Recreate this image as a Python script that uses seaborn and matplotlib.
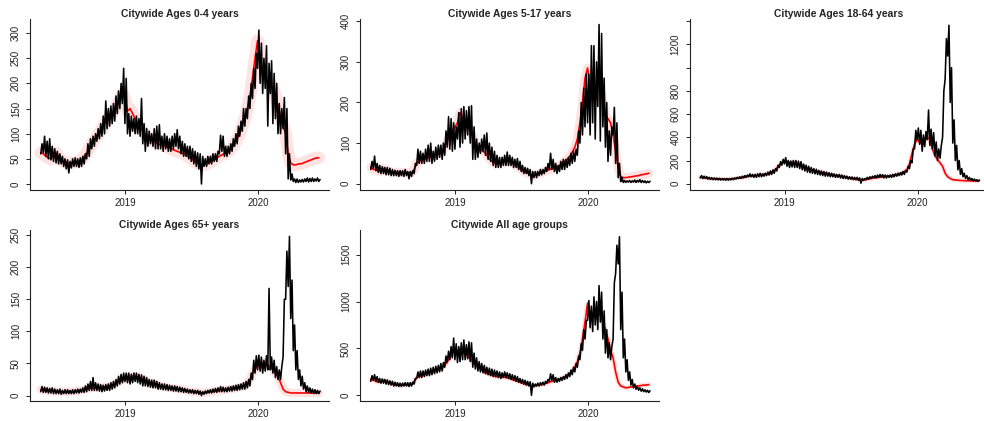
import numpy as np
import pandas as pd
import matplotlib
matplotlib.use("Agg")
import matplotlib.pyplot as plt
import seaborn as sns

# ---------------- data (weekly readings, 2018-05-14 .. 2020-06-15) ----------------
start_date = "2018-05-14"
n_weeks = 110

titles = ["Citywide Ages 0-4 years", "Citywide Ages 5-17 years", "Citywide Ages 18-64 years",
          "Citywide Ages 65+ years", "Citywide All age groups"]

xtick_dates = ["2019-01-01", "2020-01-01"]
xtick_labels = ["2019", "2020"]

# Ages 0-4
obs_lo_04 = [60, 62, 55, 50, 48, 45, 42, 40, 40, 35,
             30, 22, 32, 35, 35, 33, 35, 40, 50, 55,
             70, 75, 85, 90, 95, 100, 110, 115, 120, 125,
             140, 150, 160, 120, 100, 95, 105, 100, 100, 95,
             80, 65, 75, 80, 75, 70, 70, 70, 65, 70,
             65, 65, 70, 75, 70, 60, 55, 55, 50, 45,
             40, 35, 30, 0, 35, 35, 40, 40, 45, 45,
             60, 65, 55, 55, 60, 65, 75, 80, 95, 105,
             115, 130, 150, 170, 190, 230, 200, 180, 190, 115,
             180, 120, 130, 100, 100, 110, 60, 10, 8, 5,
             3, 3, 4, 4, 5, 4, 5, 5, 6, 5]
obs_hi_04 = [80, 95, 85, 90, 75, 70, 65, 60, 55, 50,
             48, 45, 50, 52, 50, 52, 55, 60, 80, 90,
             95, 100, 110, 120, 135, 165, 150, 155, 160, 175,
             185, 200, 230, 210, 140, 135, 130, 135, 130, 170,
             120, 110, 105, 100, 110, 115, 118, 95, 100, 95,
             90, 95, 100, 108, 95, 85, 80, 75, 75, 70,
             65, 62, 60, 55, 50, 55, 55, 60, 60, 65,
             97, 95, 75, 75, 80, 90, 100, 115, 125, 150,
             150, 175, 200, 230, 260, 306, 280, 250, 275, 240,
             245, 220, 200, 160, 150, 172, 150, 60, 20, 10,
             10, 8, 9, 10, 12, 11, 12, 10, 12, 9]
exp_04 = [62, 60, 55, 52, 50, 58, 62, 55, 48, 45,
          43, 42, 42, 43, 44, 45, 48, 55, 62, 70,
          80, 88, 95, 102, 110, 120, 128, 135, 140, 148,
          158, 168, 180, 170, 145, 150, 140, 130, 120, 112,
          105, 98, 92, 88, 85, 83, 80, 78, 76, 75,
          73, 70, 68, 66, 64, 62, 60, 57, 54, 50,
          46, 43, 40, 38, 38, 40, 42, 45, 48, 52,
          55, 58, 60, 63, 67, 73, 80, 90, 100, 115,
          130, 150, 175, 210, 250, 285, 240, 220, 210, 205,
          200, 190, 175, 155, 135, 115, 100, 60, 42, 38,
          38, 40, 40, 42, 44, 46, 48, 50, 52, 52]

# Ages 5-17
obs_lo_517 = [35, 38, 32, 28, 25, 25, 22, 22, 20, 20,
              20, 18, 20, 18, 20, 12, 18, 25, 45, 50,
              50, 50, 55, 55, 50, 55, 60, 65, 60, 70,
              90, 85, 80, 85, 110, 90, 100, 110, 120, 100,
              60, 60, 65, 75, 80, 70, 60, 55, 45, 40,
              40, 40, 45, 45, 45, 45, 40, 40, 35, 30,
              25, 25, 20, 0, 15, 15, 20, 22, 25, 30,
              35, 35, 30, 25, 30, 35, 35, 40, 45, 50,
              55, 70, 100, 120, 140, 150, 120, 150, 110, 190,
              105, 140, 90, 55, 70, 120, 50, 15, 5, 3,
              3, 4, 3, 4, 3, 4, 3, 3, 2, 3]
obs_hi_517 = [55, 68, 50, 45, 42, 40, 40, 38, 35, 33,
              32, 32, 32, 35, 30, 30, 32, 50, 85, 80,
              75, 85, 95, 100, 80, 90, 95, 95, 100, 130,
              165, 160, 150, 140, 175, 185, 190, 180, 190, 192,
              140, 110, 100, 110, 120, 125, 100, 90, 80, 70,
              65, 65, 70, 78, 70, 65, 60, 62, 55, 45,
              40, 38, 35, 30, 30, 30, 35, 35, 40, 50,
              75, 60, 50, 45, 55, 60, 60, 65, 75, 80,
              85, 130, 200, 235, 270, 270, 340, 340, 300, 392,
              370, 260, 200, 130, 140, 188, 150, 50, 15, 8,
              7, 8, 7, 9, 8, 10, 8, 7, 6, 6]
exp_517 = [40, 35, 35, 30, 32, 38, 35, 30, 28, 28,
           28, 28, 28, 27, 27, 27, 27, 35, 50, 55,
           58, 60, 62, 65, 68, 70, 72, 75, 80, 90,
           105, 120, 130, 140, 150, 175, 165, 150, 140, 130,
           115, 100, 90, 85, 80, 75, 65, 58, 52, 50,
           50, 52, 55, 55, 55, 52, 48, 45, 40, 35,
           30, 27, 25, 22, 20, 22, 25, 27, 30, 32,
           35, 37, 40, 42, 45, 50, 55, 60, 68, 78,
           90, 110, 150, 200, 260, 285, 240, 220, 215, 250,
           230, 200, 170, 160, 150, 120, 80, 40, 18, 15,
           15, 16, 17, 18, 19, 20, 22, 23, 24, 26]

# Ages 18-64
obs_lo_1864 = [50, 45, 45, 40, 38, 35, 35, 33, 32, 32,
               30, 30, 33, 35, 40, 45, 45, 50, 55, 60,
               60, 55, 55, 60, 60, 65, 70, 75, 80, 90,
               110, 140, 160, 170, 150, 140, 145, 140, 140, 130,
               120, 110, 100, 95, 90, 85, 80, 75, 70, 65,
               65, 60, 60, 55, 55, 50, 45, 45, 40, 40,
               35, 35, 30, 5, 30, 35, 40, 45, 50, 50,
               55, 55, 50, 50, 55, 55, 60, 65, 70, 75,
               80, 100, 130, 180, 300, 380, 340, 280, 320, 380,
               330, 300, 240, 200, 220, 400, 900, 1100, 700, 350,
               200, 120, 80, 60, 45, 35, 30, 25, 22, 20]
obs_hi_1864 = [70, 65, 62, 55, 52, 50, 48, 47, 45, 45,
               45, 45, 48, 50, 55, 60, 65, 70, 75, 85,
               80, 80, 85, 90, 85, 90, 100, 110, 120, 130,
               160, 190, 210, 225, 200, 195, 200, 200, 195, 190,
               170, 160, 150, 140, 130, 125, 115, 110, 105, 100,
               95, 90, 85, 80, 80, 75, 70, 65, 60, 58,
               55, 55, 50, 45, 45, 55, 60, 65, 70, 75,
               80, 78, 75, 72, 75, 80, 85, 90, 95, 105,
               115, 150, 200, 300, 460, 480, 460, 420, 450, 635,
               470, 440, 360, 300, 330, 800, 1250, 1365, 1000, 550,
               330, 200, 130, 90, 70, 55, 45, 40, 35, 32]
exp_1864 = [55, 52, 50, 45, 43, 42, 42, 40, 40, 40,
            40, 40, 42, 44, 46, 48, 50, 55, 60, 65,
            68, 70, 72, 75, 78, 80, 85, 90, 95, 110,
            135, 160, 185, 200, 190, 185, 185, 180, 175, 165,
            155, 145, 135, 125, 118, 110, 105, 100, 95, 90,
            85, 80, 75, 72, 68, 64, 60, 55, 50, 45,
            42, 38, 35, 30, 30, 35, 40, 45, 50, 52,
            55, 58, 60, 62, 65, 68, 72, 78, 85, 95,
            105, 120, 170, 260, 340, 380, 360, 340, 370, 400,
            380, 300, 240, 210, 180, 150, 90, 60, 45, 35,
            32, 30, 28, 27, 26, 25, 25, 24, 24, 24]

# Ages 65+
obs_lo_65 = [6, 5, 5, 4, 4, 3, 3, 3, 2, 3,
             3, 3, 3, 3, 4, 4, 5, 5, 6, 8,
             8, 8, 8, 7, 6, 7, 8, 8, 10, 12,
             15, 18, 20, 22, 20, 18, 20, 22, 20, 18,
             15, 15, 14, 13, 12, 12, 10, 10, 9, 9,
             8, 8, 7, 7, 6, 6, 5, 5, 4, 4,
             3, 3, 2, 0, 2, 3, 4, 4, 5, 5,
             6, 6, 6, 6, 7, 7, 8, 8, 9, 10,
             10, 12, 15, 25, 35, 40, 38, 35, 38, 40,
             40, 35, 28, 25, 25, 60, 150, 170, 120, 70,
             40, 25, 15, 10, 6, 5, 4, 3, 3, 3]
obs_hi_65 = [14, 13, 12, 11, 12, 10, 9, 10, 8, 9,
             9, 8, 9, 9, 10, 10, 12, 15, 18, 22,
             28, 20, 18, 17, 16, 17, 18, 20, 22, 25,
             30, 33, 35, 35, 35, 33, 35, 35, 33, 32,
             30, 28, 25, 24, 24, 22, 20, 18, 18, 17,
             16, 15, 15, 14, 13, 12, 11, 10, 9, 9,
             8, 8, 7, 6, 7, 8, 9, 10, 11, 12,
             14, 13, 12, 13, 14, 15, 16, 17, 18, 20,
             22, 25, 35, 55, 62, 63, 60, 55, 62, 167,
             60, 55, 45, 40, 45, 150, 225, 248, 180, 110,
             70, 40, 30, 20, 15, 12, 10, 9, 8, 7]
exp_65 = [9, 8, 8, 7, 7, 7, 6, 6, 6, 6,
          6, 6, 6, 6, 7, 7, 8, 9, 10, 11,
          12, 12, 12, 12, 13, 13, 14, 15, 16, 18,
          20, 22, 24, 25, 27, 28, 30, 30, 29, 28,
          26, 24, 22, 20, 19, 18, 16, 15, 14, 13,
          12, 12, 11, 11, 10, 10, 9, 8, 7, 6,
          6, 5, 5, 4, 4, 5, 6, 6, 7, 7,
          8, 8, 9, 9, 10, 10, 11, 12, 13, 14,
          15, 18, 25, 35, 42, 45, 48, 50, 50, 48,
          45, 40, 35, 30, 20, 10, 6, 5, 4, 4,
          4, 4, 4, 4, 4, 4, 4, 4, 4, 4]

# All age groups
obs_lo_all = [150, 160, 150, 140, 130, 130, 120, 115, 110, 100,
              100, 95, 95, 100, 100, 95, 100, 120, 180, 190,
              190, 200, 210, 210, 220, 230, 240, 250, 260, 300,
              350, 380, 400, 380, 350, 360, 380, 380, 390, 360,
              300, 280, 260, 250, 240, 230, 220, 210, 200, 200,
              190, 180, 190, 190, 180, 170, 160, 150, 140, 130,
              120, 110, 100, 0, 90, 100, 100, 110, 110, 130,
              150, 160, 140, 140, 150, 160, 170, 180, 200, 220,
              250, 300, 380, 480, 600, 800, 720, 680, 750, 700,
              780, 600, 450, 400, 380, 600, 1300, 1400, 700, 400,
              250, 160, 110, 80, 65, 55, 45, 40, 35, 30]
obs_hi_all = [210, 220, 200, 180, 175, 170, 165, 155, 150, 140,
              135, 130, 130, 135, 135, 135, 140, 180, 250, 260,
              260, 270, 280, 290, 300, 310, 320, 340, 350, 420,
              470, 520, 610, 550, 520, 560, 590, 540, 570, 560,
              450, 400, 360, 340, 320, 300, 290, 280, 270, 260,
              250, 240, 250, 240, 230, 220, 210, 200, 180, 170,
              160, 150, 145, 130, 120, 130, 135, 140, 150, 170,
              230, 220, 190, 180, 190, 200, 220, 240, 270, 300,
              340, 420, 550, 700, 800, 1010, 950, 1050, 1000, 1170,
              1100, 900, 700, 560, 520, 1200, 1600, 1690, 1100, 600,
              380, 250, 170, 120, 95, 80, 70, 60, 55, 50]
exp_all = [170, 165, 150, 140, 140, 160, 150, 135, 125, 115,
           110, 108, 108, 110, 112, 115, 120, 150, 190, 200,
           210, 220, 230, 240, 250, 260, 270, 280, 295, 320,
           360, 400, 450, 470, 470, 500, 480, 460, 420, 390,
           360, 330, 300, 280, 260, 240, 230, 220, 210, 200,
           200, 195, 195, 190, 185, 175, 165, 155, 145, 135,
           125, 115, 110, 105, 100, 105, 110, 115, 120, 130,
           140, 150, 155, 160, 170, 180, 195, 210, 230, 260,
           300, 360, 450, 600, 780, 980, 880, 850, 870, 900,
           850, 780, 700, 600, 480, 400, 250, 140, 100, 90,
           80, 85, 90, 95, 100, 100, 105, 110, 110, 115]

obs_lo = [obs_lo_04, obs_lo_517, obs_lo_1864, obs_lo_65, obs_lo_all]
obs_hi = [obs_hi_04, obs_hi_517, obs_hi_1864, obs_hi_65, obs_hi_all]
expected = [exp_04, exp_517, exp_1864, exp_65, exp_all]

yticks = [[0, 50, 100, 150, 200, 250, 300],
          [0, 100, 200, 300, 400],
          [0, 200, 400, 600, 800, 1000, 1200, 1400],
          [0, 50, 100, 150, 200, 250],
          [0, 500, 1000, 1500]]
ytick_labels = [["0", "50", "100", "150", "200", "250", "300"],
                ["0", "100", "200", "300", "400"],
                ["0", "200", "400", "600", "800", "", "1200", ""],
                ["0", "50", "100", "150", "200", "250"],
                ["0", "500", "1000", "1500"]]

# ---------------- styling / layout ----------------
ylims = [(-11.9, 328), (-15.5, 405.6), (-54, 1419), (-8.5, 258), (-60, 1762)]
xlim = ("2018-04-14 12:00", "2020-07-13")
halo_widths = [9, 6.5, 3, 6, 3.5]

sns.set_style("white")
plt.rcParams["font.family"] = ["Liberation Sans", "DejaVu Sans"]

W, H = 984, 421
fig = plt.figure(figsize=(W / 100, H / 100), dpi=100)
col_left = [30, 360, 689.5]
row_top = [19, 230]
pw, ph = 299, 171

weeks = pd.date_range(start_date, periods=n_weeks, freq="7D")
half_weeks = weeks + pd.Timedelta(hours=84)

for i in range(5):
    r, c = divmod(i, 3)
    left, top = col_left[c], row_top[r]
    ax = fig.add_axes([left / W, 1 - (top + ph) / H, pw / W, ph / H])

    exp_df = pd.DataFrame({"date": weeks, "value": expected[i]})
    obs_dates = np.empty(2 * n_weeks, dtype="datetime64[ns]")
    obs_dates[0::2] = weeks.values
    obs_dates[1::2] = half_weeks.values
    obs_vals = np.empty(2 * n_weeks)
    obs_vals[0::2] = obs_lo[i]
    obs_vals[1::2] = obs_hi[i]
    obs_df = pd.DataFrame({"date": pd.to_datetime(obs_dates), "value": obs_vals})

    sns.lineplot(data=exp_df, x="date", y="value", ax=ax, color="#ffe2e2",
                 lw=halo_widths[i], estimator=None, solid_joinstyle="round",
                 solid_capstyle="round")
    sns.lineplot(data=exp_df, x="date", y="value", ax=ax, color="#ff0000",
                 lw=1.2, estimator=None)
    sns.lineplot(data=obs_df, x="date", y="value", ax=ax, color="black",
                 lw=1.15, estimator=None)

    ax.set_xlim(pd.Timestamp(xlim[0]), pd.Timestamp(xlim[1]))
    ax.set_ylim(*ylims[i])
    ax.set_xlabel("")
    ax.set_ylabel("")
    ax.set_xticks([pd.Timestamp(d) for d in xtick_dates])
    ax.set_xticklabels(xtick_labels)
    ax.set_yticks(yticks[i])
    ax.set_yticklabels(ytick_labels[i], rotation=90, va="center")

    for s in ["top", "right"]:
        ax.spines[s].set_visible(False)
    for s in ["left", "bottom"]:
        ax.spines[s].set_color("#222222")
        ax.spines[s].set_linewidth(0.8)
    ax.tick_params(axis="both", which="major", direction="out", length=3, width=0.7,
                   color="#222222", labelsize=7, labelcolor="#222222",
                   bottom=True, left=True)
    ax.tick_params(axis="y", pad=3.6)
    ax.tick_params(axis="x", pad=3.0)
    ax.set_title(titles[i], fontsize=7.4, fontweight="bold", pad=1.6, color="#222222")

fig.savefig("out.png", dpi=100)
